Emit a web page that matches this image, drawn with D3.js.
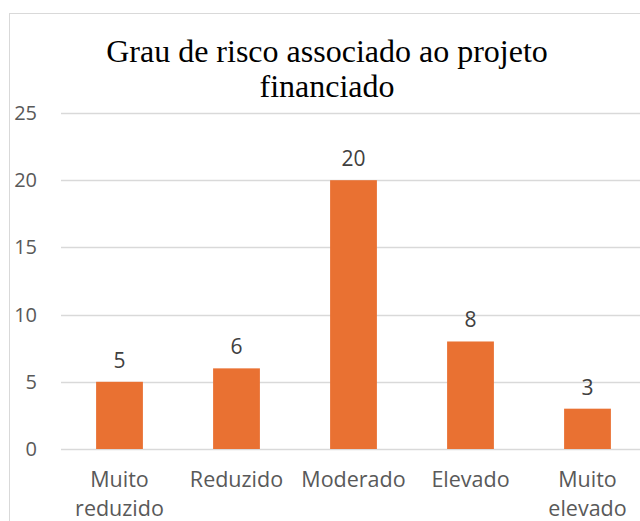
<!DOCTYPE html>
<html>
<head>
<meta charset="utf-8">
<script src="https://cdn.jsdelivr.net/npm/d3@7"></script>
<style>
  body { margin: 0; background: #fff; }
  svg { display: block; }
</style>
</head>
<body>
<svg id="chart" width="640" height="521"></svg>
<script>
// data
var categories = [['Muito', 'reduzido'], ['Reduzido'], ['Moderado'], ['Elevado'], ['Muito', 'elevado']];
var values = [5, 6, 20, 8, 3];
var yTicks = [0, 5, 10, 15, 20, 25];
var titleLines = ['Grau de risco associado ao projeto', 'financiado'];

var svg = d3.select('#chart');
var sans = '"Open Sans", "Noto Sans", sans-serif';

//chart frame (cropped on right and bottom)
svg.append('rect')
  .attr('x', 9.5).attr('y', 13.5)
  .attr('width', 700).attr('height', 600)
  .attr('fill', 'none').attr('stroke', '#d9d9d9').attr('stroke-width', 1);

var x = d3.scaleBand()
  .domain(categories.map(function(d){ return d.join(' '); }))
  .range([61, 646])
  .paddingInner(0.6)
  .paddingOuter(0.3);

var y = d3.scaleLinear().domain([0, 25]).range([449, 113]);

//gridlines
svg.append('g')
  .selectAll('line')
  .data(yTicks)
  .join('line')
  .attr('x1', 61).attr('x2', 646)
  .attr('y1', function(d){ return Math.round(y(d)) + 0.5; })
  .attr('y2', function(d){ return Math.round(y(d)) + 0.5; })
  .attr('stroke', '#d9d9d9').attr('stroke-width', 1.5);

//y axis labels
var yAxis = d3.axisLeft(y).tickValues(yTicks).tickSize(0).tickPadding(0);
var gy = svg.append('g').attr('transform', 'translate(37,0)').call(yAxis);
gy.select('.domain').remove();
gy.selectAll('text')
  .attr('fill', '#595959')
  .style('font-family', sans)
  .style('font-size', '20px');

//bars
svg.append('g')
  .selectAll('rect')
  .data(values)
  .join('rect')
  .attr('x', function(d, i){ return x(categories[i].join(' ')); })
  .attr('y', function(d){ return y(d); })
  .attr('width', x.bandwidth())
  .attr('height', function(d){ return y(0) - y(d); })
  .attr('fill', '#e97132');

//value labels
svg.append('g')
  .selectAll('text')
  .data(values)
  .join('text')
  .attr('x', function(d, i){ return x(categories[i].join(' ')) + x.bandwidth() / 2; })
  .attr('y', function(d){ return y(d) - 14; })
  .attr('text-anchor', 'middle')
  .attr('fill', '#404040')
  .style('font-family', sans)
  .style('font-size', '21px')
  .text(function(d){ return d; });

//category labels
var cat = svg.append('g')
  .selectAll('text')
  .data(categories)
  .join('text')
  .attr('x', function(d){ return x(d.join(' ')) + x.bandwidth() / 2; })
  .attr('y', 487)
  .attr('text-anchor', 'middle')
  .attr('fill', '#595959')
  .style('font-family', sans)
  .style('font-size', '21.5px');
cat.selectAll('tspan')
  .data(function(d){ return d; })
  .join('tspan')
  .attr('x', function(){ return d3.select(this.parentNode).attr('x'); })
  .attr('dy', function(d, i){ return i === 0 ? 0 : 29; })
  .text(function(d){ return d; });

//title
svg.append('text')
  .attr('x', 327)
  .attr('y', 62)
  .attr('text-anchor', 'middle')
  .attr('fill', '#000')
  .style('font-family', '"Liberation Serif", "Times New Roman", serif')
  .style('font-size', '32px')
  .selectAll('tspan')
  .data(titleLines)
  .join('tspan')
  .attr('x', 327)
  .attr('dy', function(d, i){ return i === 0 ? 0 : 35; })
  .text(function(d){ return d; });
</script>
</body>
</html>
